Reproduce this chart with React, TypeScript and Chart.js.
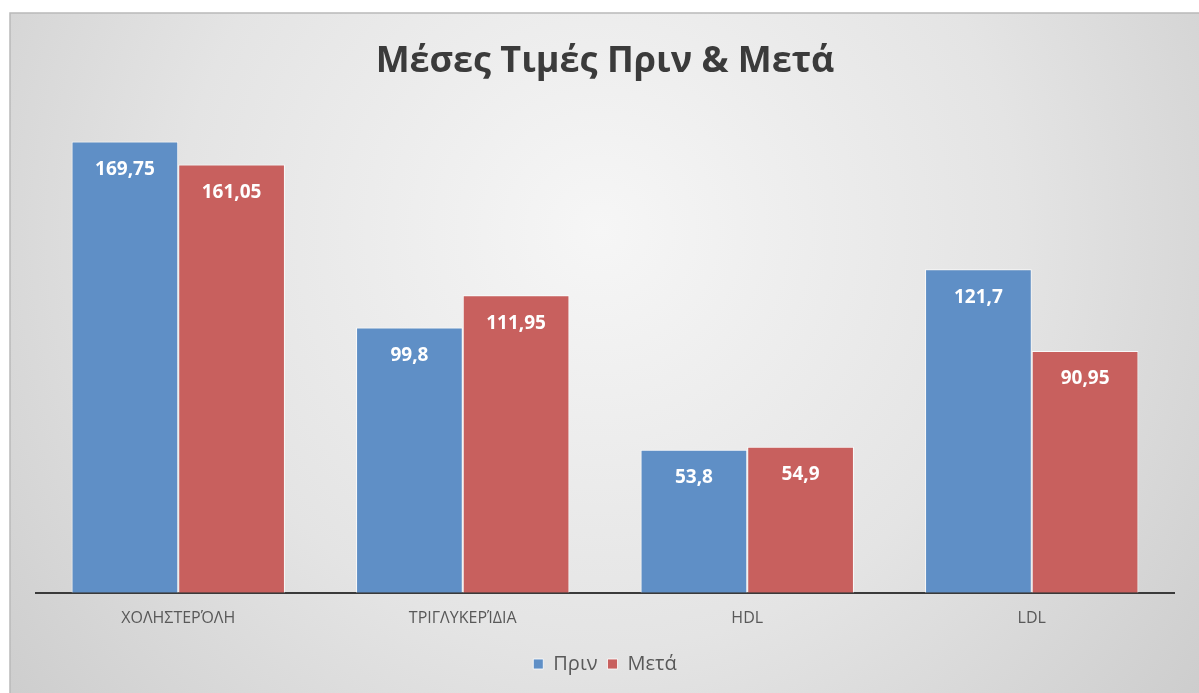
import React, { useEffect, useRef } from "react";
import { Chart, registerables } from "chart.js";

Chart.register(...registerables);

const categories = ["ΧΟΛΗΣΤΕΡΌΛΗ", "ΤΡΙΓΛΥΚΕΡΊΔΙΑ", "HDL", "LDL"];
const beforeValues = [169.75, 99.8, 53.8, 121.7];
const afterValues = [161.05, 111.95, 54.9, 90.95];
const seriesNames = ["Πριν", "Μετά"];
const chartTitle = "Μέσες Τιμές Πριν & Μετά";

const BLUE = "#5f8fc6";
const RED = "#c8605e";
const FONT = "'Open Sans', 'Noto Sans', sans-serif";

const backgroundPlugin = {
  id: "bgBox",
  beforeDraw(chart: any) {
    const { ctx, width, height } = chart;
    ctx.save();
    ctx.fillStyle = "#ffffff";
    ctx.fillRect(0, 0, width, height);
    const x0 = 10, y0 = 13;
    const g = ctx.createRadialGradient(600, 230, 0, 600, 230, 760);
    g.addColorStop(0, "#f6f6f6");
    g.addColorStop(0.55, "#e4e4e4");
    g.addColorStop(1, "#cdcdcd");
    ctx.fillStyle = g;
    ctx.fillRect(x0, y0, width - x0, height - y0);
    ctx.strokeStyle = "#b9b9b9";
    ctx.lineWidth = 1.5;
    ctx.beginPath();
    ctx.moveTo(x0, height);
    ctx.lineTo(x0, y0);
    ctx.lineTo(width, y0);
    ctx.stroke();
    ctx.restore();
  },
};

const valueLabelPlugin = {
  id: "valueLabels",
  afterDatasetsDraw(chart: any) {
    const { ctx } = chart;
    ctx.save();
    ctx.fillStyle = "#ffffff";
    ctx.font = `bold 19px ${FONT}`;
    ctx.textAlign = "center";
    ctx.textBaseline = "middle";
    chart.data.datasets.forEach((ds: any, di: number) => {
      const meta = chart.getDatasetMeta(di);
      meta.data.forEach((bar: any, i: number) => {
        const v = ds.data[i] as number;
        const txt = String(v).replace(".", ",");
        ctx.fillText(txt, bar.x, bar.y + 28);
      });
    });
    ctx.restore();
  },
};

export default function App() {
  const ref = useRef<HTMLCanvasElement | null>(null);
  useEffect(() => {
    if (!ref.current) return;
    const chart = new Chart(ref.current, {
      type: "bar",
      data: {
        labels: categories,
        datasets: [
          {
            label: seriesNames[0],
            data: beforeValues,
            backgroundColor: BLUE,
            borderColor: "rgba(255,255,255,0.8)",
            borderWidth: 1,
            borderSkipped: "bottom",
            categoryPercentage: 0.75,
            barPercentage: 1,
          },
          {
            label: seriesNames[1],
            data: afterValues,
            backgroundColor: RED,
            borderColor: "rgba(255,255,255,0.8)",
            borderWidth: 1,
            borderSkipped: "bottom",
            categoryPercentage: 0.75,
            barPercentage: 1,
          },
        ],
      },
      options: {
        responsive: false,
        animation: false,
        layout: { padding: { top: 13, left: 36, right: 25, bottom: 9 } },
        scales: {
          x: {
            grid: { display: false, drawTicks: false },
            border: { display: true, color: "#3a3a3a", width: 2 },
            ticks: {
              color: "#595959",
              font: { family: FONT, size: 16 },
              padding: 16,
            },
          },
          y: {
            display: false,
            min: 0,
            max: 180,
          },
        },
        plugins: {
          title: {
            display: true,
            text: chartTitle,
            color: "#3b3b3b",
            font: { family: FONT, size: 36, weight: "bold" },
            padding: { top: 27, bottom: 31 },
          },
          legend: {
            position: "bottom",
            labels: {
              color: "#595959",
              font: { family: FONT, size: 20 },
              boxWidth: 10,
              boxHeight: 10,
              padding: 10,
            },
          },
          tooltip: { enabled: false },
        },
      },
      plugins: [backgroundPlugin, valueLabelPlugin],
    });
    return () => chart.destroy();
  }, []);
  return (
    <div style={{ position: "fixed", left: 0, top: 0, width: 1199, height: 693 }}>
      <canvas ref={ref} width={1199} height={693} style={{ display: "block" }} />
    </div>
  );
}
